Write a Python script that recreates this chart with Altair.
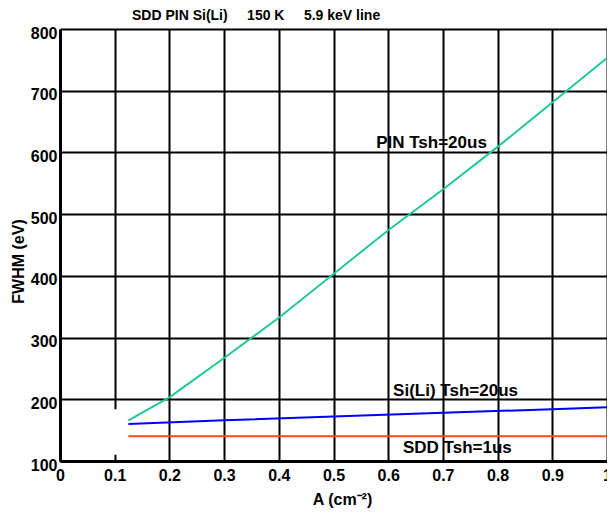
import altair as alt
import pandas as pd

# ---- data ----
x_pin = [0.125, 0.2, 0.3, 0.4, 0.5, 0.6, 0.7, 0.8, 0.9, 1.0]
y_pin = [166, 203, 267, 332, 403, 474, 540, 609, 681, 753]

x_si = [0.125, 0.3, 0.5, 0.7, 0.9, 1.0]
y_si = [160, 166, 172, 178, 184, 187]

x_sdd = [0.125, 1.0]
y_sdd = [140, 140]

series_names = ["PIN", "SiLi", "SDD"]
series_colors = ["#1ec997", "#0000ff", "#ff4a1f"]

label_text = ["PIN Tsh=20us", "Si(Li) Tsh=20us", "SDD Tsh=1us"]
label_x = [0.578, 0.609, 0.627]
label_y = [615, 214, 121]

x_ticks = [0, 0.1, 0.2, 0.3, 0.4, 0.5, 0.6, 0.7, 0.8, 0.9, 1.0]
y_ticks = [100, 200, 300, 400, 500, 600, 700, 800]

# white box that hides part of the grid near the origin
box = pd.DataFrame({"x": [0.05], "x2": [0.12], "y": [110], "y2": [184]})

rows = []
for name, xs, ys in [("PIN", x_pin, y_pin), ("SiLi", x_si, y_si), ("SDD", x_sdd, y_sdd)]:
    for a, b in zip(xs, ys):
        rows.append({"series": name, "A": a, "FWHM": b})
lines_df = pd.DataFrame(rows)

labels_df = pd.DataFrame({"text": label_text, "A": label_x, "FWHM": label_y})

FONT = "Liberation Sans"

xscale = alt.Scale(domain=[0, 1], nice=False, zero=False)
yscale = alt.Scale(domain=[100, 800], nice=False, zero=False)

xaxis = alt.Axis(
    values=x_ticks, format="~g", title="A (cm⁻²)",
    labelFont=FONT, labelFontSize=16, labelFontWeight="bold", labelColor="black",
    labelFlush=False, labelOverlap=False, labelPadding=6, ticks=False,
    domainColor="black", domainWidth=3,
    grid=True, gridColor="black", gridWidth=2, gridOpacity=1,
    titleFont=FONT, titleFontSize=16, titleFontWeight="bold", titleColor="black",
    titleX=282, titleY=43, titleBaseline="alphabetic", titleAlign="center",
)
yaxis = alt.Axis(
    values=y_ticks, format="d", title="FWHM (eV)",
    labelFont=FONT, labelFontSize=16, labelFontWeight="bold", labelColor="black",
    labelOverlap=False, labelPadding=3, labelOffset=4, ticks=False,
    domainColor="black", domainWidth=3,
    grid=True, gridColor="black", gridWidth=2, gridOpacity=1,
    titleFont=FONT, titleFontSize=16, titleFontWeight="bold", titleColor="black",
    titleX=-42, titleY=232, titleAngle=270, titleBaseline="middle", titleAlign="center",
)

base_lines = alt.Chart(lines_df).mark_line(strokeWidth=2).encode(
    x=alt.X("A:Q", scale=xscale, axis=xaxis),
    y=alt.Y("FWHM:Q", scale=yscale, axis=yaxis),
    color=alt.Color("series:N", scale=alt.Scale(domain=series_names, range=series_colors), legend=None),
    detail="series:N",
)

white = alt.Chart(box).mark_rect(color="white").encode(
    x=alt.X("x:Q", scale=xscale), x2="x2", y=alt.Y("y:Q", scale=yscale), y2="y2"
)

texts = alt.Chart(labels_df).mark_text(
    font=FONT, fontSize=17, fontWeight="bold", color="black", align="left", baseline="middle"
).encode(
    x=alt.X("A:Q", scale=xscale),
    y=alt.Y("FWHM:Q", scale=yscale),
    text="text:N",
)

title_text = "SDD PIN Si(Li)\u00a0\u00a0\u00a0\u00a0 150 K\u00a0\u00a0\u00a0\u00a0 5.9 keV line"

chart = alt.layer(white, base_lines, texts).properties(
    width=547,
    height=432,
    autosize=alt.AutoSizeParams(type="none"),
    padding={"left": 52, "top": 21, "right": 0, "bottom": 47},
    title=alt.TitleParams(
        text=title_text, font=FONT, fontSize=14, fontWeight="bold", color="black",
        anchor="start", frame="group", dx=72, offset=2,
    ),
).configure_view(stroke="black", strokeWidth=3).configure(background="white")

chart.save("out.html", embed_options={"renderer": "svg", "actions": False})
